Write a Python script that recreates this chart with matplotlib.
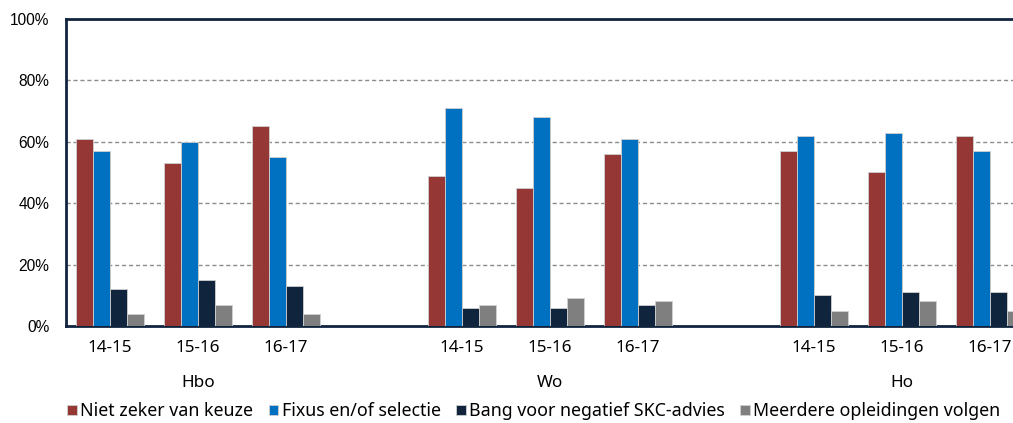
import matplotlib
matplotlib.use("Agg")
from matplotlib import pyplot as plt
from matplotlib import font_manager
import numpy as np

# chart data
groups = ["Hbo", "Wo", "Ho"]
years = ["14-15", "15-16", "16-17"]
series_names = ["Niet zeker van keuze", "Fixus en/of selectie",
                "Bang voor negatief SKC-advies", "Meerdere opleidingen volgen"]
niet_zeker = [61, 53, 65, 49, 45, 56, 57, 50, 62]
fixus = [57, 60, 55, 71, 68, 61, 62, 63, 57]
bang_skc = [12, 15, 13, 6, 6, 7, 10, 11, 11]
meerdere = [4, 7, 4, 7, 9, 8, 5, 8, 5]
colors = ["#953735", "#0070C0", "#10243E", "#7F7F7F"]

names = {f.name for f in font_manager.fontManager.ttflist}
if "Liberation Sans Narrow" in names:
    narrow, narrow_size = "Liberation Sans Narrow", 13.5
else:
    narrow, narrow_size = "Liberation Sans", 11.2
label_font = "Noto Sans"

fig = plt.figure(figsize=(10.13, 4.23), dpi=100)
ax = fig.add_axes([66 / 1013, 97 / 423, 968 / 1013, 307 / 423])

# one empty slot between the groups
slots = []
for g in range(len(groups)):
    for y in range(len(years)):
        slots.append(g * (len(years) + 1) + y)
slots = np.array(slots, dtype=float)

bw = 0.196
all_series = [niet_zeker, fixus, bang_skc, meerdere]
for i, vals in enumerate(all_series):
    ax.bar(slots + (i - 1.5) * bw, vals, bw, color=colors[i],
           edgecolor="#d0d0d0", linewidth=0.6, label=series_names[i], zorder=3)

ax.set_xlim(-0.5, slots[-1] + 0.5)
ax.set_ylim(0, 100)
ax.set_yticks([0, 20, 40, 60, 80, 100])
ax.set_yticklabels([f"{v}%" for v in [0, 20, 40, 60, 80, 100]],
                   fontfamily=narrow, fontsize=narrow_size)
ax.set_xticks(slots)
ax.set_xticklabels(years * len(groups), fontfamily=label_font, fontsize=12.3)
ax.tick_params(axis="y", length=0, pad=12)
ax.tick_params(axis="x", length=0, pad=10)

for v in [20, 40, 60, 80]:
    ax.axhline(v, color="#8c8c8c", linestyle=(0, (3, 2)), linewidth=1, zorder=1)

for side in ["left", "top", "bottom"]:
    ax.spines[side].set_color("#10243E")
    ax.spines[side].set_linewidth(2)
ax.spines["right"].set_visible(False)

# group names under the year labels
for g, name in enumerate(groups):
    cx = slots[g * 3:(g + 1) * 3].mean()
    ax.text(cx, -0.185, name, transform=ax.get_xaxis_transform(),
            ha="center", va="center", fontfamily=label_font, fontsize=12.3)

fig.legend(loc="center", bbox_to_anchor=(0.527, 0.028), ncol=4, frameon=False,
           prop={"family": label_font, "size": 12.8}, handlelength=0.55,
           handleheight=0.55, handletextpad=0.2, columnspacing=0.85,
           borderaxespad=0)

fig.savefig("out.png", dpi=100)
